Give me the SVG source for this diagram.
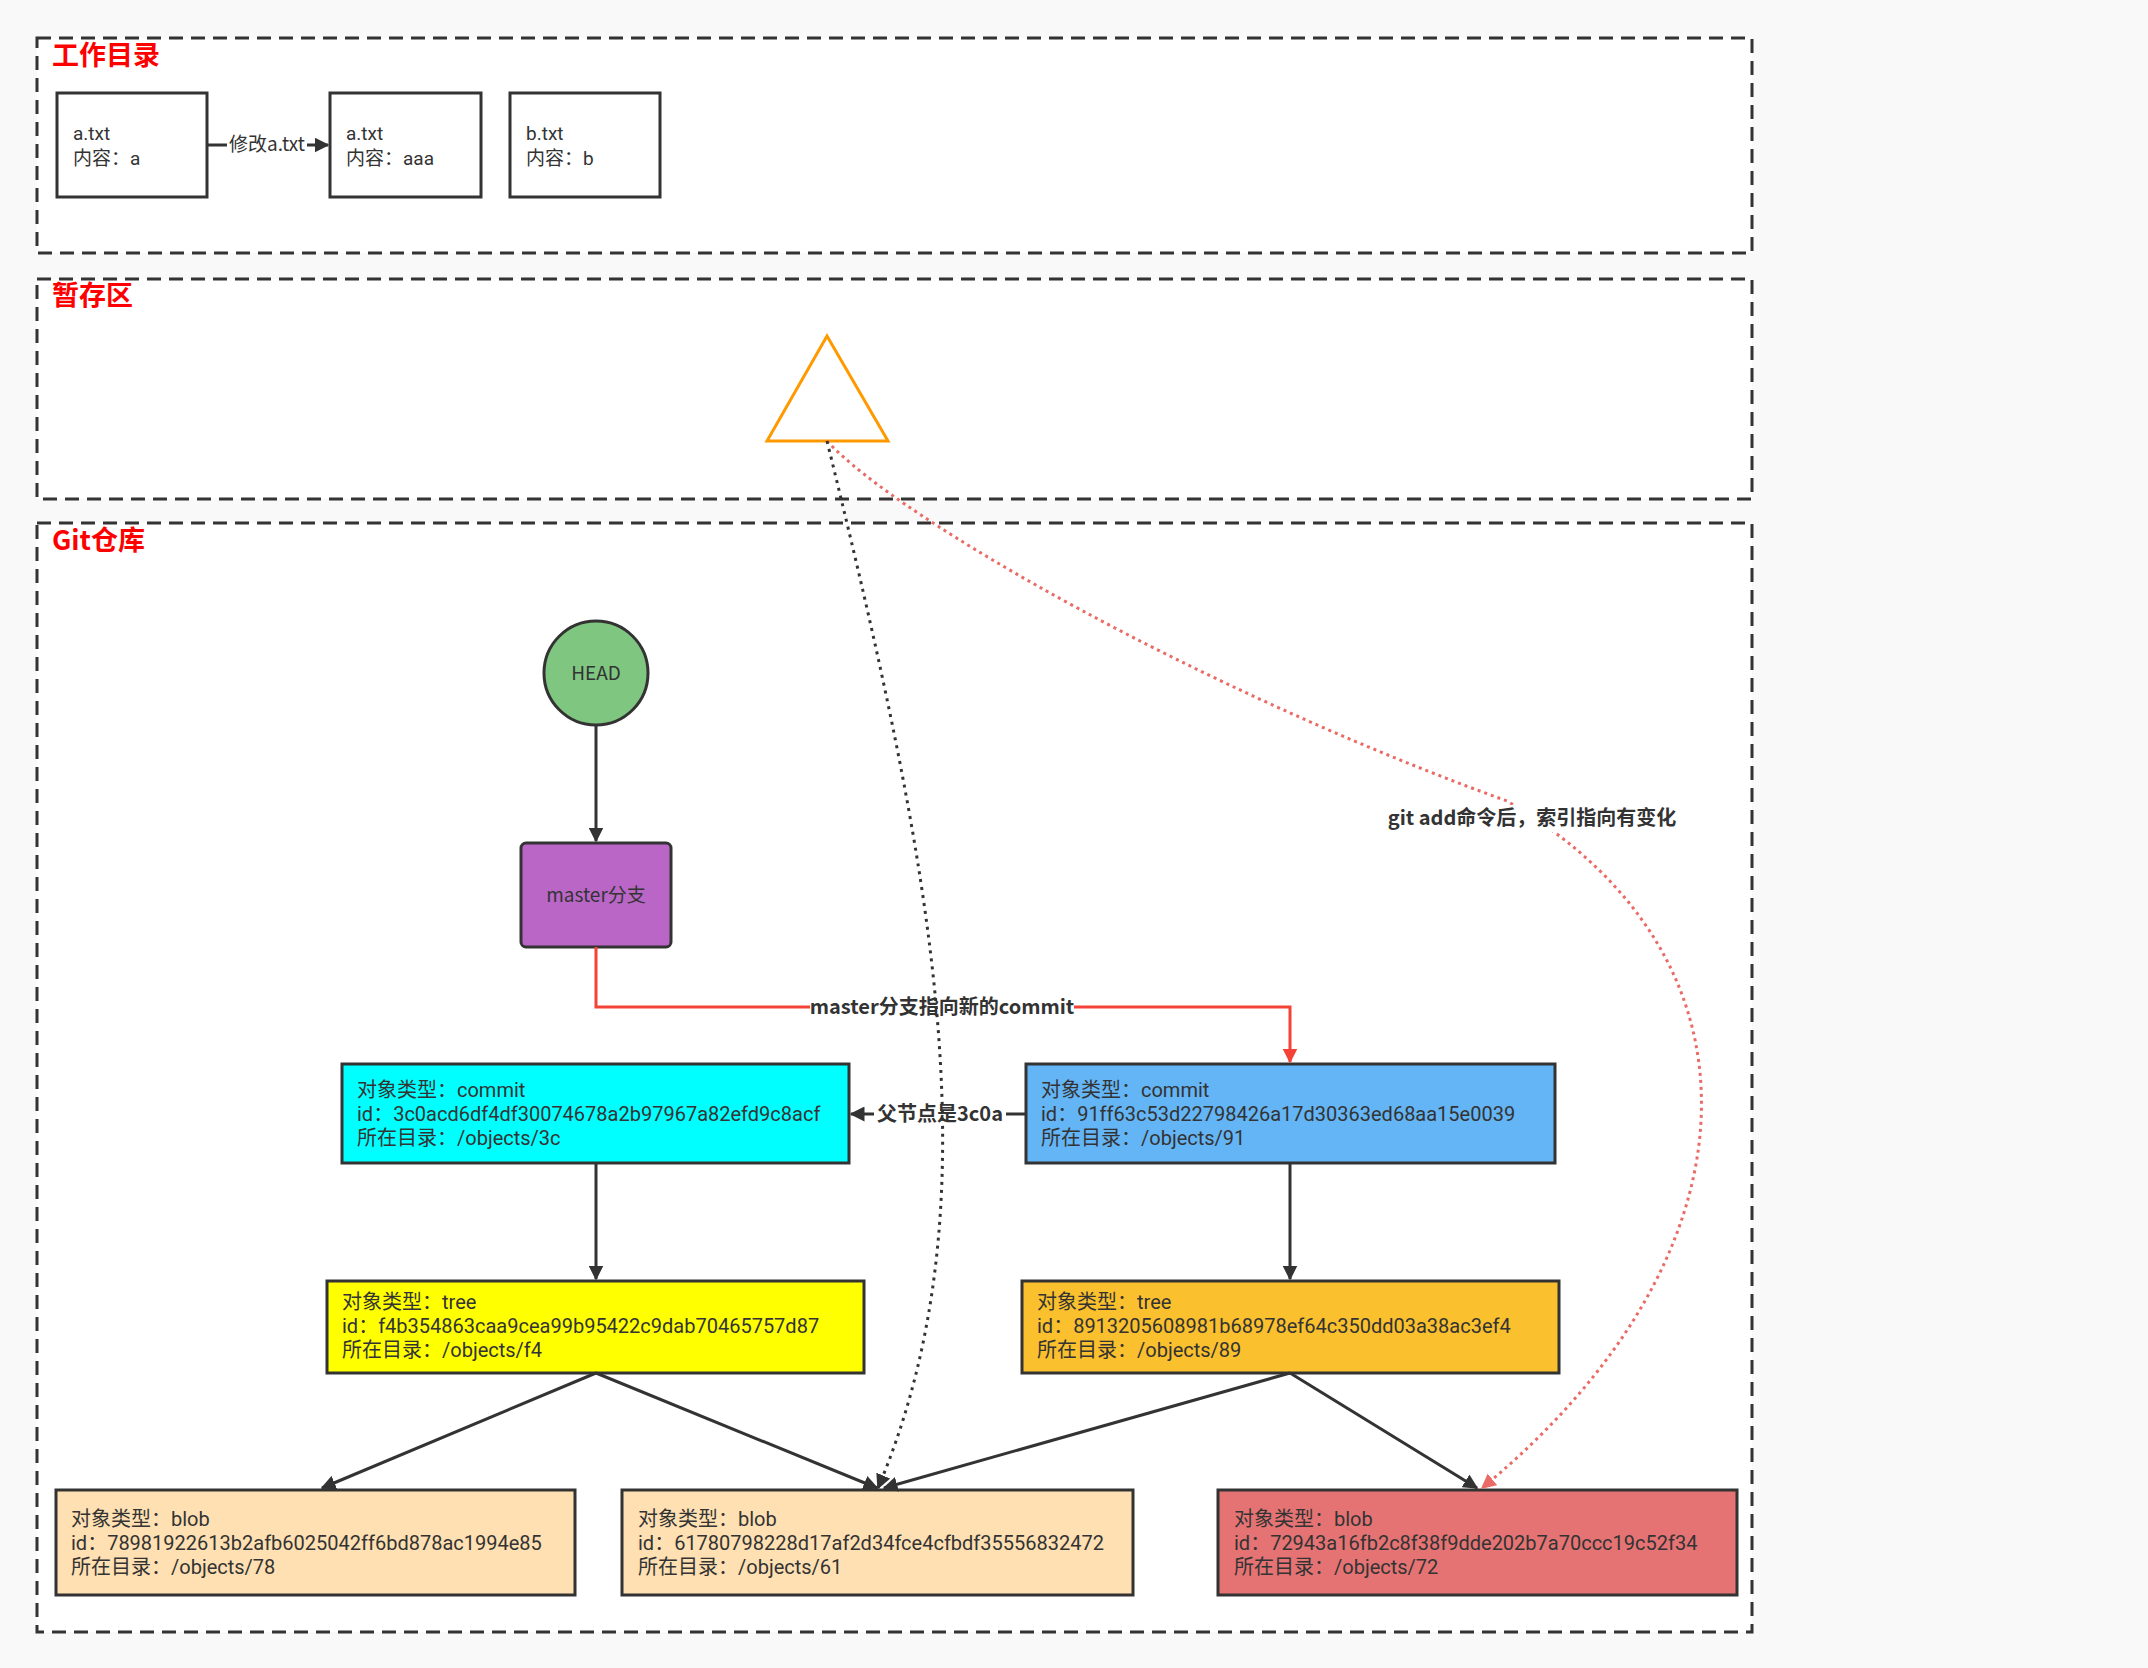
<svg xmlns="http://www.w3.org/2000/svg" width="2148" height="1668" viewBox="0 0 2148 1668">
<style>
text{font-family:"Noto Sans CJK SC","Microsoft YaHei",sans-serif;fill:#333}
.panel{fill:#fff;stroke:#333;stroke-width:3;stroke-dasharray:14 8}
.title{fill:#f00;font-weight:bold;font-size:27px}
.node{stroke:#333;stroke-width:3}
.t{font-size:19px}
.m{font-family:Roboto,"Noto Sans CJK SC",sans-serif}
.o{font-size:20px;font-family:Roboto,"Noto Sans CJK SC",sans-serif}
.lbl{font-size:20px;font-weight:bold}
.e{fill:none;stroke:#333;stroke-width:3}
</style>
<defs>
<marker id="ab" viewBox="0 0 10 10" refX="9" refY="5" markerWidth="5" markerHeight="5" orient="auto"><path d="M0,0 L10,5 L0,10 Z" fill="#333"/></marker>
<marker id="ar" viewBox="0 0 10 10" refX="9" refY="5" markerWidth="5" markerHeight="5" orient="auto"><path d="M0,0 L10,5 L0,10 Z" fill="#f44336"/></marker>
<marker id="ap" viewBox="0 0 10 10" refX="9" refY="5" markerWidth="5" markerHeight="5" orient="auto"><path d="M0,0 L10,5 L0,10 Z" fill="#ea6b66"/></marker>
</defs>
<rect width="2148" height="1668" fill="#f9f9f9"/>
<g id="panel-work"><rect class="panel" x="37" y="38" width="1715" height="215"/><text class="title" x="52" y="65">工作目录</text></g>
<g id="panel-stage"><rect class="panel" x="37" y="279" width="1715" height="220"/><text class="title" x="52" y="305">暂存区</text></g>
<g id="panel-repo"><rect class="panel" x="37" y="523" width="1715" height="1109"/><text class="title" x="52" y="550">Git仓库</text></g>

<g id="file-a1"><rect class="node" x="57" y="93" width="150" height="104" fill="#fff"/><text class="t m"><tspan x="73" y="140">a.txt</tspan><tspan x="73" y="165">内容：a</tspan></text></g>
<g id="file-a2"><rect class="node" x="330" y="93" width="151" height="104" fill="#fff"/><text class="t m"><tspan x="346" y="140">a.txt</tspan><tspan x="346" y="165">内容：aaa</tspan></text></g>
<g id="file-b"><rect class="node" x="510" y="93" width="150" height="104" fill="#fff"/><text class="t m"><tspan x="526" y="140">b.txt</tspan><tspan x="526" y="165">内容：b</tspan></text></g>

<g id="index"><polygon points="827,336 767,441 888,441" fill="#fff" stroke="#ff9900" stroke-width="3"/></g>

<g id="head"><circle cx="596" cy="673" r="52" fill="#7fc781" stroke="#333" stroke-width="3"/><text class="t" x="596" y="680" text-anchor="middle">HEAD</text></g>
<g id="master"><rect class="node" x="521" y="843" width="150" height="104" rx="5" fill="#b966c7"/><text class="t" x="596" y="902" text-anchor="middle">master分支</text></g>

<g id="commit-3c"><rect class="node" x="342" y="1064" width="507" height="99" fill="#00ffff"/><text class="o"><tspan x="357" y="1097">对象类型：commit</tspan><tspan x="357" y="1121">id：3c0acd6df4df30074678a2b97967a82efd9c8acf</tspan><tspan x="357" y="1145">所在目录：/objects/3c</tspan></text></g>
<g id="commit-91"><rect class="node" x="1026" y="1064" width="529" height="99" fill="#64b5f6"/><text class="o"><tspan x="1041" y="1097">对象类型：commit</tspan><tspan x="1041" y="1121">id：91ff63c53d22798426a17d30363ed68aa15e0039</tspan><tspan x="1041" y="1145">所在目录：/objects/91</tspan></text></g>

<g id="tree-f4"><rect class="node" x="327" y="1281" width="537" height="92" fill="#ffff00"/><text class="o"><tspan x="342" y="1309">对象类型：tree</tspan><tspan x="342" y="1333">id：f4b354863caa9cea99b95422c9dab70465757d87</tspan><tspan x="342" y="1357">所在目录：/objects/f4</tspan></text></g>
<g id="tree-89"><rect class="node" x="1022" y="1281" width="537" height="92" fill="#fbc02d"/><text class="o"><tspan x="1037" y="1309">对象类型：tree</tspan><tspan x="1037" y="1333">id：8913205608981b68978ef64c350dd03a38ac3ef4</tspan><tspan x="1037" y="1357">所在目录：/objects/89</tspan></text></g>

<g id="blob-78"><rect class="node" x="56" y="1490" width="519" height="105" fill="#ffe0b2"/><text class="o"><tspan x="71" y="1526">对象类型：blob</tspan><tspan x="71" y="1550">id：78981922613b2afb6025042ff6bd878ac1994e85</tspan><tspan x="71" y="1574">所在目录：/objects/78</tspan></text></g>
<g id="blob-61"><rect class="node" x="622" y="1490" width="511" height="105" fill="#ffe0b2"/><text class="o"><tspan x="638" y="1526">对象类型：blob</tspan><tspan x="638" y="1550">id：61780798228d17af2d34fce4cfbdf35556832472</tspan><tspan x="638" y="1574">所在目录：/objects/61</tspan></text></g>
<g id="blob-72"><rect class="node" x="1218" y="1490" width="519" height="105" fill="#e57373"/><text class="o"><tspan x="1234" y="1526">对象类型：blob</tspan><tspan x="1234" y="1550">id：72943a16fb2c8f38f9dde202b7a70ccc19c52f34</tspan><tspan x="1234" y="1574">所在目录：/objects/72</tspan></text></g>

<g id="connectors">
<path class="e" d="M207,145 H328" marker-end="url(#ab)"/>
<rect x="227" y="132" width="80" height="26" fill="#fff"/>
<text class="t" x="267" y="151" text-anchor="middle">修改a.txt</text>

<path class="e" d="M596,725 V841" marker-end="url(#ab)"/>

<path d="M596,947 V1007 H1290 V1062" fill="none" stroke="#f44336" stroke-width="3" marker-end="url(#ar)"/>
<rect x="810" y="994" width="264" height="26" fill="#fff"/>
<text class="lbl" x="942" y="1014" text-anchor="middle">master分支指向新的commit</text>

<path class="e" d="M1026,1114 H851" marker-end="url(#ab)"/>
<rect x="874" y="1101" width="132" height="26" fill="#fff"/>
<text class="lbl" x="940" y="1121" text-anchor="middle">父节点是3c0a</text>

<path class="e" d="M596,1163 V1279" marker-end="url(#ab)"/>
<path class="e" d="M1290,1163 V1279" marker-end="url(#ab)"/>

<path class="e" d="M596,1373 L322,1488" marker-end="url(#ab)"/>
<path class="e" d="M596,1373 L877,1488" marker-end="url(#ab)"/>
<path class="e" d="M1290,1373 L884,1488" marker-end="url(#ab)"/>
<path class="e" d="M1290,1373 L1477,1488" marker-end="url(#ab)"/>

<path d="M827,441 C900,520 1200,690 1507,801 C1780,960 1760,1260 1482,1488" fill="none" stroke="#ea6b66" stroke-width="3" stroke-dasharray="3 4" marker-end="url(#ap)"/>
<rect x="1388" y="805" width="290" height="27" fill="#fff"/>
<text class="lbl" x="1532" y="825" text-anchor="middle">git add命令后，索引指向有变化</text>

<path d="M827,441 C930,860 1000,1200 878,1488" fill="none" stroke="#333" stroke-width="3" stroke-dasharray="3 5" marker-end="url(#ab)"/>
</g>
</svg>
